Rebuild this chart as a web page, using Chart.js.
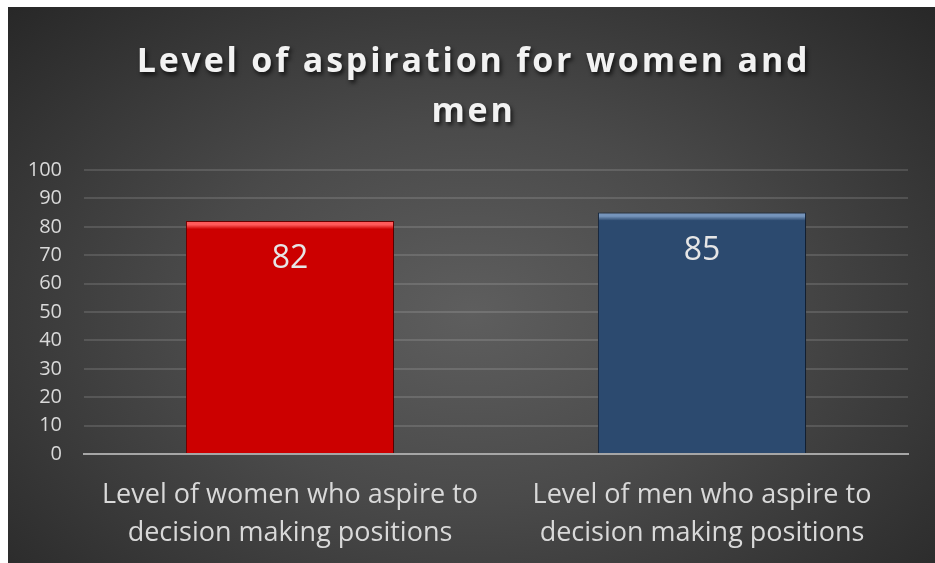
<!DOCTYPE html>
<html>
<head>
<meta charset="utf-8">
<script src="https://cdn.jsdelivr.net/npm/chart.js@4.4.1/dist/chart.umd.min.js"></script>
<style>
    html, body { margin: 0; padding: 0; background: #ffffff; }
    #wrap {
        position: absolute;
        left: 8px;
        top: 7px;
        width: 927px;
        height: 556px;
        background: radial-gradient(ellipse 75% 85% at 50% 55%, #5e5e5e 0%, #4a4a4a 40%, #333333 75%, #232323 100%);
    }
</style>
</head>
<body>
<div id="wrap"><canvas id="chart" width="927" height="556"></canvas></div>
<script>
// Data
const TITLE_LINES = ['Level of aspiration for women and', 'men'];
const CATEGORIES = [
    ['Level of women who aspire to', 'decision making positions'],
    ['Level of men who aspire to', 'decision making positions']
];
const VALUES = [82, 85];
const Y_MIN = 0;
const Y_MAX = 100;
const Y_STEP = 10;

// Colors
const BAR_COLORS = ['#cc0000', '#2c4a6f'];
const BAR_HIGHLIGHTS = ['#ff5a5a', '#7594bb'];
const BAR_BORDERS = ['#7a0000', '#1a2c44'];
const TEXT_COLOR = '#d9d9d9';
const TITLE_COLOR = '#f2f2f2';
const GRID_COLOR = 'rgba(255, 255, 255, 0.13)';
const ZERO_LINE_COLOR = '#a6a6a6';

// Fonts
const FONT_FAMILY = '"Open Sans", sans-serif';

const barGradient = (ctx) => {
    const i = ctx.dataIndex;
    const chart = ctx.chart;
    if (!chart.chartArea || ctx.raw === undefined) return BAR_COLORS[i];
    const y = chart.scales.y;
    const top = y.getPixelForValue(ctx.raw);
    const bottom = y.getPixelForValue(0);
    const f = 8 / (bottom - top);
    const g = chart.ctx.createLinearGradient(0, top, 0, bottom);
    g.addColorStop(0, BAR_HIGHLIGHTS[i]);
    g.addColorStop(f * 0.45, BAR_HIGHLIGHTS[i]);
    g.addColorStop(f, BAR_COLORS[i]);
    g.addColorStop(1, BAR_COLORS[i]);
    return g;
};

// Plugins
const barShadow = {
    id: 'barShadow',
    beforeDatasetsDraw(chart) {
        const c = chart.ctx;
        c.save();
        c.shadowColor = 'rgba(0, 0, 0, 0.55)';
        c.shadowBlur = 7;
        c.shadowOffsetX = 2;
        c.shadowOffsetY = 2;
    },
    afterDatasetsDraw(chart) {
        chart.ctx.restore();
    }
};

const valueLabels = {
    id: 'valueLabels',
    afterDatasetsDraw(chart) {
        const c = chart.ctx;
        const meta = chart.getDatasetMeta(0);
        c.save();
        c.font = '32px ' + FONT_FAMILY;
        c.fillStyle = '#e6e6e6';
        c.textAlign = 'center';
        c.textBaseline = 'middle';
        meta.data.forEach((bar, i) => {
            c.fillText(String(VALUES[i]), bar.x, bar.y + 38);
        });
        c.restore();
    }
};

const spacedTitle = {
    id: 'spacedTitle',
    afterDraw(chart) {
        const c = chart.ctx;
        c.save();
        c.font = 'bold 34px ' + FONT_FAMILY;
        c.letterSpacing = '2.8px';
        c.fillStyle = TITLE_COLOR;
        c.textAlign = 'center';
        c.textBaseline = 'alphabetic';
        c.shadowColor = 'rgba(0, 0, 0, 0.7)';
        c.shadowBlur = 4;
        c.shadowOffsetX = 2;
        c.shadowOffsetY = 3;
        TITLE_LINES.forEach((line, i) => {
            c.fillText(line, chart.width / 2 + 2, 65 + i * 50);
        });
        c.restore();
    }
};

const chart = new Chart(document.getElementById('chart'), {
    type: 'bar',
    data: {
        labels: CATEGORIES,
        datasets: [{
            data: VALUES,
            backgroundColor: barGradient,
            borderColor: BAR_BORDERS,
            borderWidth: 1,
            categoryPercentage: 1,
            barPercentage: 0.505
        }]
    },
    options: {
        responsive: false,
        animation: false,
        layout: { padding: { top: 163, right: 27, left: 0, bottom: 0 } },
        plugins: {
            legend: { display: false },
            title: { display: false },
            tooltip: { enabled: false }
        },
        scales: {
            x: {
                grid: { display: false, drawTicks: false },
                border: { display: true, color: ZERO_LINE_COLOR, width: 2 },
                ticks: {
                    color: TEXT_COLOR,
                    font: { family: FONT_FAMILY, size: 27, lineHeight: 1.41 },
                    padding: 22,
                    maxRotation: 0
                },
                afterFit: (s) => { s.height = 109; }
            },
            y: {
                min: Y_MIN,
                max: Y_MAX,
                grid: { color: GRID_COLOR, lineWidth: 2, drawTicks: false },
                border: { display: false },
                ticks: {
                    stepSize: Y_STEP,
                    color: TEXT_COLOR,
                    font: { family: FONT_FAMILY, size: 20 },
                    padding: 22
                },
                afterFit: (s) => { s.width = 76; }
            }
        }
    },
    plugins: [barShadow, valueLabels, spacedTitle]
});
</script>
</body>
</html>
